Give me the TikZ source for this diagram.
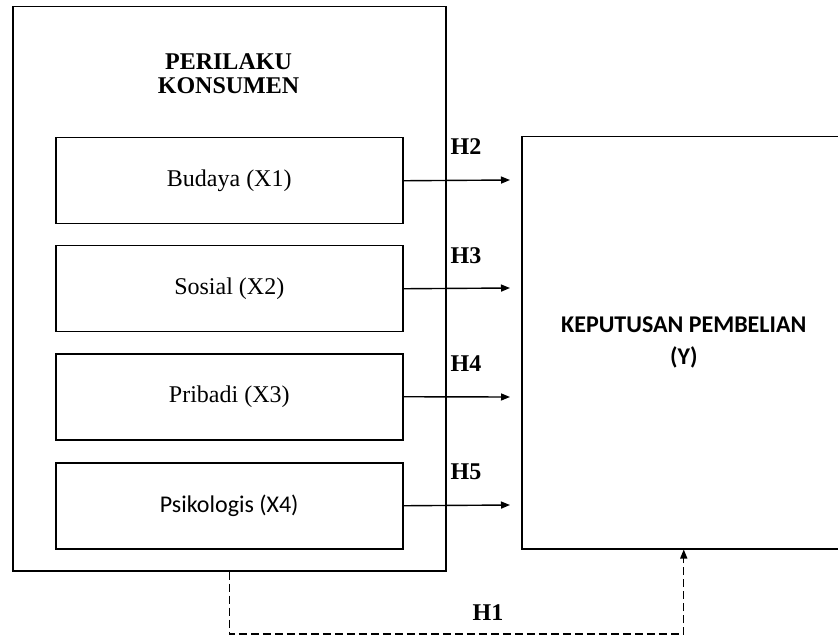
\documentclass[tikz,border=0pt]{standalone}
\usepackage{fontspec}
\setmainfont{Liberation Serif}
\newfontfamily\calfont{Carlito}
\usetikzlibrary{arrows.meta}
\begin{document}
\begin{tikzpicture}[x=1pt,y=-1pt,
  line width=1.4pt,
  frame/.style={draw, line width=1.5pt, inner sep=0pt, anchor=north west},
  inbox/.style={frame, minimum width=347pt, minimum height=86pt, font=\fontsize{24}{32}\selectfont},
  hlab/.style={font=\fontsize{24}{28}\selectfont\bfseries, inner sep=0pt},
  arr/.style={-{Triangle[length=9pt,width=7pt]}},
  dline/.style={dash pattern=on 8pt off 4pt, -{Triangle[length=9pt,width=7pt]}}]
\clip (0,0) rectangle (838,636);
\useasboundingbox (0,0) rectangle (838,636);
% outer box
\node[frame, minimum width=433pt, minimum height=564pt] (P) at (12,6) {};
\node[font=\fontsize{24}{24}\selectfont\bfseries, align=center, inner sep=0pt] (PT) at (228.5,73.5) {PERILAKU\\KONSUMEN};
% inner boxes
\node[inbox] (B1) at (55,137) {Budaya (X1)};
\node[inbox] (B2) at (55,245) {Sosial (X2)};
\node[inbox] (B3) at (55,353) {Pribadi (X3)};
\node[inbox, font=\fontsize{24}{32}\selectfont\calfont] (B4) at (55,462) {Psikologis (X4)};
% right box
\node[frame, minimum width=324pt, minimum height=412pt, align=center,
      font=\fontsize{24}{32}\selectfont\calfont\bfseries] (Y) at (521,136) {KEPUTUSAN PEMBELIAN\\(Y)};
% arrow ends
\coordinate (e1) at (510,180);
\coordinate (e2) at (510,288);
\coordinate (e3) at (510,397);
\coordinate (e4) at (510,505);
\draw[arr] (B1.east) -- (e1);
\draw[arr] (B2.east) -- (e2);
\draw[arr] (B3.east) -- (e3);
\draw[arr] (B4.east) -- (e4);
% labels
\node[hlab] (H2) at (466,147) {H2};
\node[hlab] (H3) at (466,256) {H3};
\node[hlab] (H4) at (466,364) {H4};
\node[hlab] (H5) at (466,472) {H5};
\node[hlab] (H1) at (488,613) {H1};
% dashed
\coordinate (low) at (0,634);
\draw[dline] (P.south) -- (P.south |- low) -| (Y.south);
\end{tikzpicture}
\end{document}
